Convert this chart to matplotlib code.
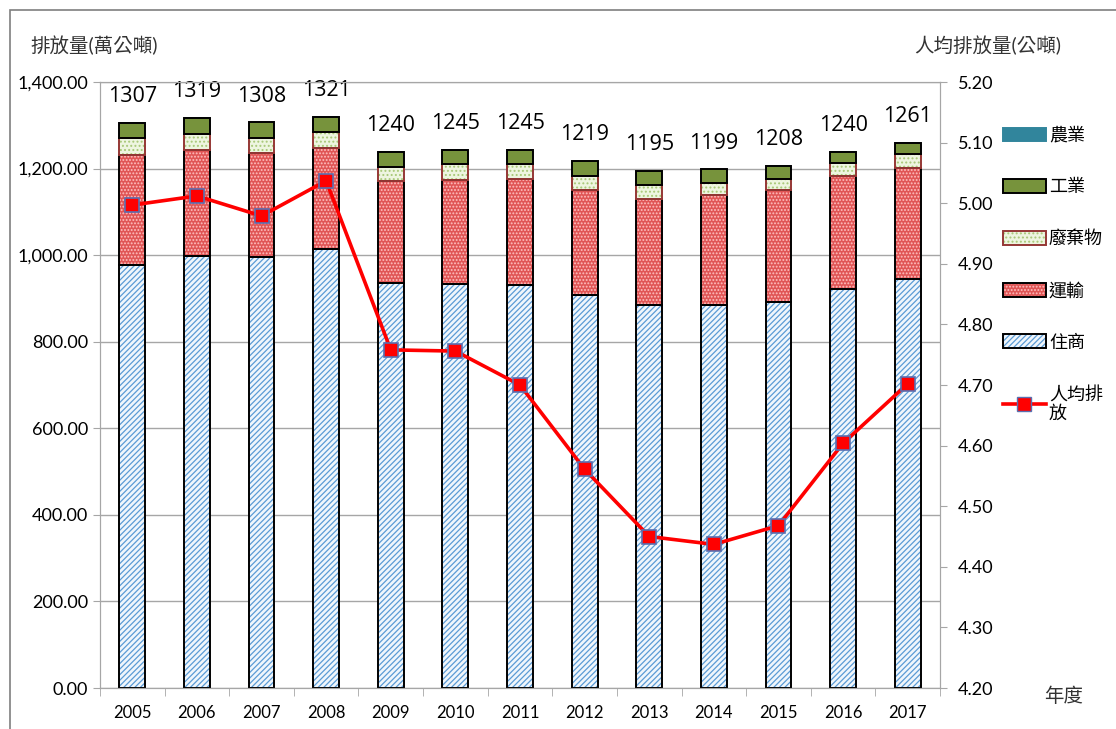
import numpy as np
import matplotlib
matplotlib.use('Agg')
import matplotlib.pyplot as plt
from matplotlib.patches import Patch, Rectangle
from matplotlib.lines import Line2D
from matplotlib.legend_handler import HandlerTuple
from matplotlib.ticker import FuncFormatter, MultipleLocator

plt.rcParams['font.family'] = ['Lato', 'Noto Sans CJK TC', 'DejaVu Sans']
plt.rcParams['hatch.linewidth'] = 0.9

years = ['2005', '2006', '2007', '2008', '2009', '2010', '2011',
         '2012', '2013', '2014', '2015', '2016', '2017']
# 萬公噸
residential = [977, 999, 996, 1014, 935, 933, 931, 909, 885, 886, 892, 921, 945]
transport = [254, 245, 241, 233, 236, 241, 244, 241, 244, 253, 258, 262, 256]
waste = [40, 37, 34, 37, 33, 36, 35, 33, 33, 27, 27, 29, 33]
industry = [35, 37, 36, 36, 35, 34, 34, 35, 32, 32, 30, 27, 26]
agriculture = [0.5, 0.5, 0.5, 0.5, 0.5, 0.5, 0.5, 0.5, 0.5, 0.5, 0.5, 0.5, 0.5]
totals = [1307, 1319, 1308, 1321, 1240, 1245, 1245, 1219, 1195, 1199, 1208, 1240, 1261]
# 公噸 per person
per_capita = [4.997, 5.012, 4.979, 5.037, 4.758, 4.756, 4.700,
              4.561, 4.450, 4.437, 4.468, 4.604, 4.702]

fig = plt.figure(figsize=(11.16, 7.29), dpi=100)
ax = fig.add_axes([0.0896, 0.0562, 0.7527, 0.8313])
ax2 = ax.twinx()

x = np.arange(len(years))
w = 0.4

# (label, values, face, hatch, hatch colour, outline colour)
series = [
    ('住商', residential, '#F0F6FC', '//////', '#5B9BD5', 'black'),
    ('運輸', transport, '#E05555', '.....', '#FFC0C0', 'black'),
    ('廢棄物', waste, '#EEF5E0', '....', '#A8C878', '#953735'),
    ('工業', industry, '#77933C', None, None, 'black'),
    ('農業', agriculture, '#31859C', None, None, 'none'),
]

handles = {}
bottom = np.zeros(len(years))
for name, vals, face, hatch, hcol, ecol in series:
    vals = np.array(vals, dtype=float)
    if hatch:
        ax.bar(x, vals, w, bottom=bottom, color=face, hatch=hatch,
               edgecolor=hcol, linewidth=0, zorder=2)
    else:
        ax.bar(x, vals, w, bottom=bottom, color=face, linewidth=0, zorder=2)
    if ecol != 'none':
        ax.bar(x, vals, w, bottom=bottom, fill=False, edgecolor=ecol,
               linewidth=1.4, zorder=3)
    fill = Patch(facecolor=face, hatch=hatch, edgecolor=hcol if hatch else face, linewidth=0)
    edge = Patch(fill=False, edgecolor=ecol if ecol != 'none' else face, linewidth=1.4)
    handles[name] = (fill, edge)
    bottom += vals

for xi, t in zip(x, totals):
    ax.annotate(str(t), (xi, t), xytext=(0, 11), textcoords='offset points',
                ha='center', va='bottom', fontsize=15.5, family=['Open Sans', 'DejaVu Sans'])

ax2.plot(x, per_capita, color='#FF0000', linewidth=2.6, marker='s',
         markersize=10, markerfacecolor='#FF0000', markeredgecolor='#5A6FB0',
         markeredgewidth=1.2, zorder=5)

ax.set_xlim(-0.5, len(years) - 0.5)
ax.set_ylim(0, 1400)
ax2.set_ylim(4.2, 5.2)
ax.yaxis.set_major_locator(MultipleLocator(200))
ax2.yaxis.set_major_locator(MultipleLocator(0.1))
ax.yaxis.set_major_formatter(FuncFormatter(lambda v, p: f'{v:,.2f}'))
ax2.yaxis.set_major_formatter(FuncFormatter(lambda v, p: f'{v:.2f}'))
ax.grid(axis='y', color='#A6A6A6', linewidth=1.0, zorder=0)
ax.set_axisbelow(True)

ax.set_xticks(x)
ax.set_xticklabels(years)
ax.set_xticks(np.arange(-0.5, len(years)), minor=True)
ax.tick_params(axis='x', which='major', length=0, labelsize=12, pad=12)
ax.tick_params(axis='x', which='minor', length=6, color='#A6A6A6')
ax.tick_params(axis='y', length=5, color='#A6A6A6', labelsize=13)
ax2.tick_params(axis='y', length=5, color='#A6A6A6', labelsize=13, pad=8)
for a in (ax, ax2):
    for s in a.spines.values():
        s.set_color('#A6A6A6')

fig.text(0.027, 0.938, '排放量(萬公噸)', fontsize=14, color='#333333', va='center')
fig.text(0.951, 0.938, '人均排放量(公噸)', fontsize=14, color='#333333', va='center', ha='right')
fig.text(0.936, 0.045, '年度', fontsize=14, color='#333333', va='center')

line_h = Line2D([], [], color='#FF0000', linewidth=2.6, marker='s', markersize=10,
                markerfacecolor='#FF0000', markeredgecolor='#5A6FB0')
order = ['農業', '工業', '廢棄物', '運輸', '住商']
fig.legend([handles[n] for n in order] + [line_h], order + ['人均排\n放'],
           loc='upper left', bbox_to_anchor=(0.884, 0.848), frameon=False,
           fontsize=13, labelspacing=1.95, handlelength=2.4, handleheight=0.8,
           handletextpad=0.15, handler_map={tuple: HandlerTuple(ndivide=1)})

fig.patches.append(Rectangle((0.009, -0.1), 1.2, 1.086, transform=fig.transFigure,
                             fill=False, edgecolor='#7F7F7F', linewidth=1.2))

fig.savefig('out.png', dpi=100)
